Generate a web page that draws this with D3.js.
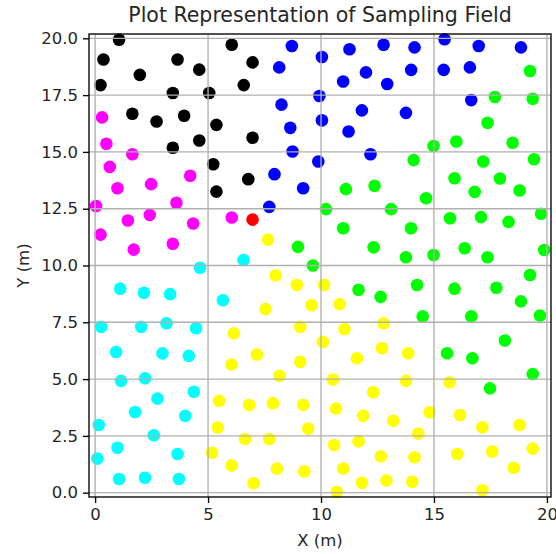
<!DOCTYPE html>
<html>
<head>
<meta charset="utf-8">
<script src="https://cdn.jsdelivr.net/npm/d3@7"></script>
<style>
  html, body { margin: 0; padding: 0; background: #ffffff; }
  svg { display: block; }
  text { font-family: "DejaVu Sans", sans-serif; fill: #262626; }
</style>
</head>
<body>
<svg id="chart" width="556" height="554"></svg>
<script>
// ---------------- data ----------------
const title = "Plot Representation of Sampling Field";
const xLabel = "X (m)";
const yLabel = "Y (m)";
const xTicks = [0, 5, 10, 15, 20];
const yTicks = [0, 2.5, 5, 7.5, 10, 12.5, 15, 17.5, 20];

const blackPts = [[1.06,19.94],[0.37,19.07],[3.65,19.07],[6.05,19.72],[6.97,18.94],[1.98,18.39],[4.61,18.62],[0.24,17.94],[3.44,17.59],[5.05,17.59],[6.58,17.94],[1.65,16.68],[2.72,16.34],[3.94,16.59],[5.37,16.19],[4.61,15.50],[3.44,15.18],[6.97,15.62],[5.23,14.46],[6.78,13.80],[5.37,13.25]];

const magentaPts = [[0.31,16.52],[0.50,15.36],[1.65,14.90],[0.65,14.34],[4.21,13.95],[0.99,13.40],[2.48,13.58],[0.04,12.62],[3.60,12.76],[1.45,11.98],[2.42,12.23],[4.34,11.85],[6.05,12.11],[0.24,11.36],[1.71,10.70],[3.44,10.96]];

const redPts = [[6.97,12.02]];

const bluePts = [[8.71,19.66],[8.15,18.72],[8.25,17.08],[8.64,16.06],[8.74,15.02],[7.94,14.02],[9.21,13.40],[7.71,12.58],[10.04,19.18],[11.26,19.52],[12.77,19.72],[14.14,19.60],[15.47,19.96],[16.98,19.66],[18.85,19.60],[11.99,18.50],[10.98,18.10],[12.93,17.99],[13.99,18.61],[15.43,18.61],[16.59,18.72],[9.93,17.46],[16.65,17.28],[11.81,16.83],[13.76,16.72],[10.04,16.39],[11.22,15.90],[12.19,14.90],[9.88,14.58]];

const greenPts = [[8.98,10.82],[9.64,10.00],[19.25,18.56],[17.70,17.42],[19.37,17.34],[17.37,16.28],[14.98,15.26],[15.99,15.46],[18.48,15.40],[14.10,14.64],[17.18,14.58],[19.43,14.68],[15.91,13.84],[17.92,13.83],[11.10,13.36],[12.37,13.51],[16.80,13.24],[18.79,13.30],[14.65,12.96],[10.22,12.48],[13.10,12.48],[15.71,12.08],[17.08,12.13],[18.30,11.92],[19.74,12.28],[10.98,11.64],[13.98,11.64],[12.33,10.80],[16.36,10.76],[19.88,10.68],[13.76,10.36],[14.98,10.46],[17.37,10.36],[11.66,8.93],[12.64,8.62],[14.25,9.14],[15.91,8.98],[17.76,9.02],[19.25,9.58],[18.85,8.42],[19.69,7.80],[14.50,7.76],[16.65,7.76],[18.14,6.70],[15.58,6.14],[16.70,5.92],[19.37,5.22],[17.48,4.59]];

const yellowPts = [[7.65,11.14],[7.99,9.57],[8.93,9.14],[7.54,8.08],[9.58,8.25],[6.14,7.02],[9.08,7.30],[7.16,6.08],[6.04,5.64],[9.08,5.76],[8.16,5.14],[5.49,4.04],[6.82,3.86],[7.87,3.94],[9.21,3.86],[5.43,2.87],[9.43,2.82],[6.64,2.36],[7.71,2.36],[5.17,1.76],[6.04,1.20],[8.05,1.06],[9.26,0.94],[7.01,0.42],[10.13,9.14],[10.82,8.30],[11.04,7.20],[12.77,7.46],[10.08,6.64],[11.59,5.92],[12.70,6.36],[13.86,6.14],[10.53,4.98],[13.76,4.92],[15.69,4.86],[12.31,4.42],[10.66,3.70],[11.87,3.38],[13.20,3.16],[14.81,3.54],[16.15,3.42],[17.14,2.88],[18.79,2.98],[14.30,2.60],[10.58,2.10],[11.66,2.26],[12.65,1.60],[14.14,1.56],[16.03,1.70],[17.58,1.81],[19.37,1.94],[18.53,1.10],[10.98,1.06],[11.81,0.44],[12.89,0.54],[14.04,0.48],[10.70,0.04],[17.14,0.11]];

const cyanPts = [[4.65,9.90],[6.57,10.24],[1.11,8.98],[2.16,8.80],[3.32,8.74],[5.66,8.47],[0.27,7.30],[2.04,7.30],[3.16,7.46],[4.47,7.24],[0.93,6.19],[2.98,6.13],[4.15,6.02],[1.15,4.92],[2.21,5.04],[4.37,4.44],[2.76,4.14],[1.77,3.55],[3.99,3.38],[0.16,2.98],[2.60,2.53],[0.99,1.98],[0.10,1.50],[3.65,1.70],[1.06,0.60],[2.21,0.66],[3.71,0.60]];

const seriesNames = ["black", "magenta", "red", "blue", "green", "yellow", "cyan"];
const seriesData = [blackPts, magentaPts, redPts, bluePts, greenPts, yellowPts, cyanPts];

// ---------------- styles ----------------
const seriesColor = {
  black: "#000000", magenta: "#ff00ff", red: "#ff0000", blue: "#0000ff",
  green: "#00ff00", yellow: "#ffff00", cyan: "#00ffff"
};

// ---------------- layout ----------------
const plot = { left: 89, right: 551, top: 34, bottom: 497 };
const x = d3.scaleLinear().domain([-0.27, 20.18]).range([plot.left, plot.right]);
const y = d3.scaleLinear().domain([-0.19, 20.19]).range([plot.bottom, plot.top]);

const svg = d3.select("#chart");
const lw = 1.35;

// points
seriesNames.forEach((name, i) => {
  svg.append("g")
    .selectAll("circle")
    .data(seriesData[i])
    .join("circle")
    .attr("cx", d => x(d[0]))
    .attr("cy", d => y(d[1]))
    .attr("r", 6.3)
    .attr("fill", seriesColor[name]);
});

// grid (above points, like matplotlib)
const grid = svg.append("g").attr("stroke", "#b0b0b0").attr("stroke-width", lw);
grid.selectAll("line.vx").data(xTicks).join("line")
  .attr("x1", d => x(d)).attr("x2", d => x(d))
  .attr("y1", plot.top).attr("y2", plot.bottom);
grid.selectAll("line.hy").data(yTicks).join("line")
  .attr("y1", d => y(d)).attr("y2", d => y(d))
  .attr("x1", plot.left).attr("x2", plot.right);

// axes
const xAxis = d3.axisBottom(x).tickValues(xTicks).tickFormat(d3.format("d"))
  .tickSizeInner(6).tickSizeOuter(0).tickPadding(5);
const yAxis = d3.axisLeft(y).tickValues(yTicks).tickFormat(d3.format(".1f"))
  .tickSizeInner(6).tickSizeOuter(0).tickPadding(5);

const gx = svg.append("g").attr("transform", `translate(0,${plot.bottom})`).call(xAxis);
const gy = svg.append("g").attr("transform", `translate(${plot.left},0)`).call(yAxis);
[gx, gy].forEach(g => {
  g.select(".domain").remove();
  g.selectAll(".tick line").attr("stroke", "#000").attr("stroke-width", lw);
  g.selectAll(".tick text").attr("font-family", "DejaVu Sans").attr("font-size", 16.5).attr("fill", "#262626");
});

// spines
svg.append("rect")
  .attr("x", plot.left).attr("y", plot.top)
  .attr("width", plot.right - plot.left).attr("height", plot.bottom - plot.top)
  .attr("fill", "none").attr("stroke", "#000").attr("stroke-width", lw);

// title & labels
svg.append("text").attr("x", (plot.left + plot.right) / 2).attr("y", 22)
  .attr("text-anchor", "middle").attr("font-size", 20.5).text(title);
svg.append("text").attr("x", (plot.left + plot.right) / 2).attr("y", 546)
  .attr("text-anchor", "middle").attr("font-size", 16.5).text(xLabel);
svg.append("text")
  .attr("transform", `translate(29,${(plot.top + plot.bottom) / 2}) rotate(-90)`)
  .attr("text-anchor", "middle").attr("font-size", 16.5).text(yLabel);
</script>
</body>
</html>
